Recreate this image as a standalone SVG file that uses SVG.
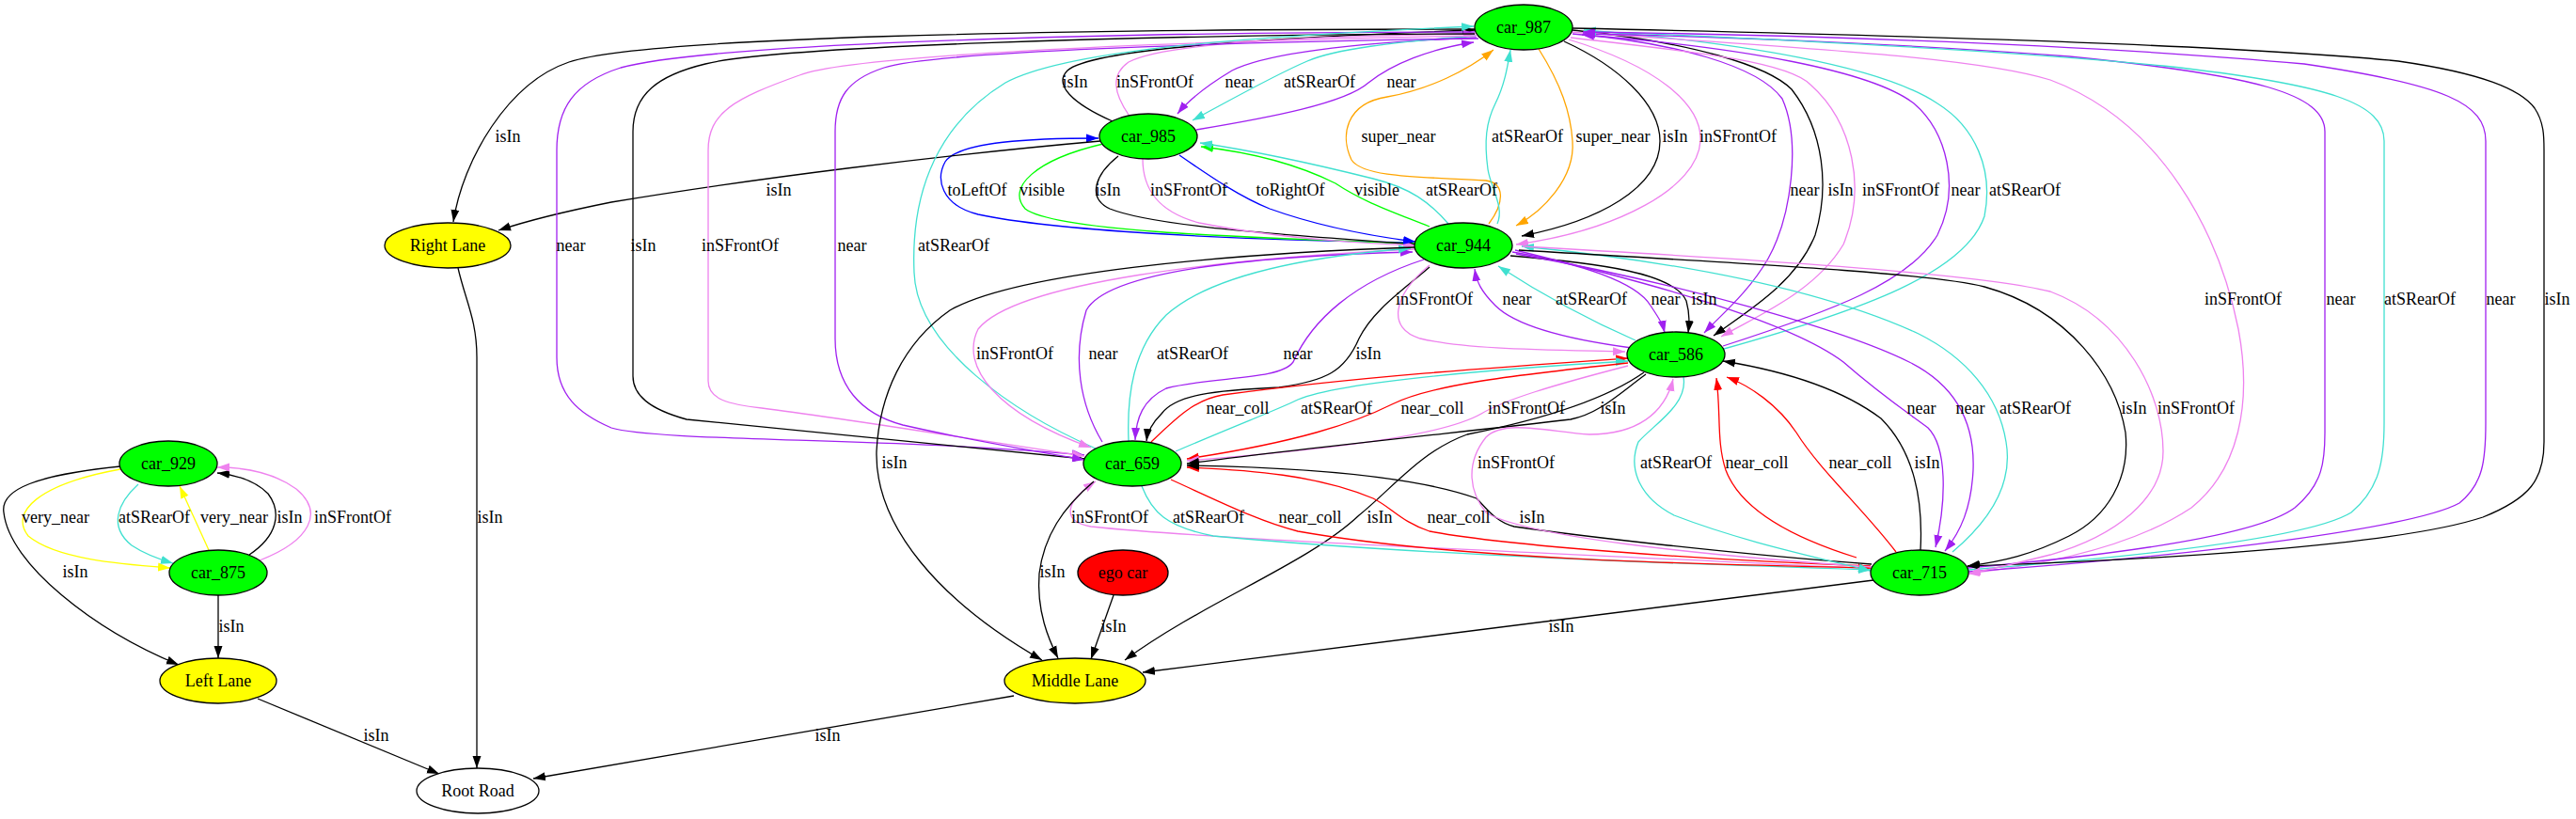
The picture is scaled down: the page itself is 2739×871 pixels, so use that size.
<svg xmlns="http://www.w3.org/2000/svg" width="2739" height="871" viewBox="0 0 2739 871">
<style>
.e{fill:none;stroke-width:1.3}
.k{stroke:#000;marker-end:url(#ak)}
.p{stroke:#a020f0;marker-end:url(#ap)}
.v{stroke:#ee82ee;marker-end:url(#av)}
.t{stroke:#40e0d0;marker-end:url(#at)}
.o{stroke:#ffa500;marker-end:url(#ao)}
.b{stroke:#0000ff;marker-end:url(#ab)}
.g{stroke:#00ff00;marker-end:url(#ag)}
.r{stroke:#ff0000;marker-end:url(#ar)}
.y{stroke:#ffff00;marker-end:url(#ay)}
.l{font-family:"Liberation Serif","Times New Roman",serif;font-size:18px;text-anchor:middle;fill:#000}
.n{stroke:#000;stroke-width:1.3}
.nt{font-family:"Liberation Serif","Times New Roman",serif;font-size:18px;text-anchor:middle;fill:#000}
</style>
<defs>
<marker id="ak" markerUnits="userSpaceOnUse" markerWidth="14" markerHeight="10" viewBox="0 0 14 10" refX="13" refY="5" orient="auto"><path d="M0,0.5 L13,5 L0,9.5 z" fill="#000"/></marker>
<marker id="ap" markerUnits="userSpaceOnUse" markerWidth="14" markerHeight="10" viewBox="0 0 14 10" refX="13" refY="5" orient="auto"><path d="M0,0.5 L13,5 L0,9.5 z" fill="#a020f0"/></marker>
<marker id="av" markerUnits="userSpaceOnUse" markerWidth="14" markerHeight="10" viewBox="0 0 14 10" refX="13" refY="5" orient="auto"><path d="M0,0.5 L13,5 L0,9.5 z" fill="#ee82ee"/></marker>
<marker id="at" markerUnits="userSpaceOnUse" markerWidth="14" markerHeight="10" viewBox="0 0 14 10" refX="13" refY="5" orient="auto"><path d="M0,0.5 L13,5 L0,9.5 z" fill="#40e0d0"/></marker>
<marker id="ao" markerUnits="userSpaceOnUse" markerWidth="14" markerHeight="10" viewBox="0 0 14 10" refX="13" refY="5" orient="auto"><path d="M0,0.5 L13,5 L0,9.5 z" fill="#ffa500"/></marker>
<marker id="ab" markerUnits="userSpaceOnUse" markerWidth="14" markerHeight="10" viewBox="0 0 14 10" refX="13" refY="5" orient="auto"><path d="M0,0.5 L13,5 L0,9.5 z" fill="#0000ff"/></marker>
<marker id="ag" markerUnits="userSpaceOnUse" markerWidth="14" markerHeight="10" viewBox="0 0 14 10" refX="13" refY="5" orient="auto"><path d="M0,0.5 L13,5 L0,9.5 z" fill="#00ff00"/></marker>
<marker id="ar" markerUnits="userSpaceOnUse" markerWidth="14" markerHeight="10" viewBox="0 0 14 10" refX="13" refY="5" orient="auto"><path d="M0,0.5 L13,5 L0,9.5 z" fill="#ff0000"/></marker>
<marker id="ay" markerUnits="userSpaceOnUse" markerWidth="14" markerHeight="10" viewBox="0 0 14 10" refX="13" refY="5" orient="auto"><path d="M0,0.5 L13,5 L0,9.5 z" fill="#ffff00"/></marker>
</defs>
<rect width="2739" height="871" fill="#fff"/>
<g id="connectors">
<!-- car_987 <-> car_985 -->
<path class="e k" d="M1183,129 C1140,110 1120,90 1135,75 C1160,52 1350,40 1568,32"/>
<path class="e v" d="M1200,122 C1185,100 1180,80 1200,66 C1240,45 1400,38 1569,36"/>
<path class="e p" d="M1570,40 C1450,45 1350,55 1310,75 C1285,90 1265,105 1252,121"/>
<path class="e t" d="M1569,38 C1480,45 1420,52 1390,65 C1355,80 1320,100 1268,128"/>
<path class="e p" d="M1272,138 C1350,125 1430,110 1455,88 C1480,68 1520,52 1567,45"/>
<!-- car_987 -> Right Lane -->
<path class="e k" d="M1568,31 C1100,31 680,40 605,66 C540,88 492,170 482,236"/>
<!-- car_987 <-> car_944 -->
<path class="e o" d="M1583,238 C1600,215 1600,195 1580,192 C1520,188 1450,190 1437,170 C1425,145 1430,110 1475,103 C1520,95 1560,75 1588,53"/>
<path class="e t" d="M1592,238 C1600,220 1585,200 1582,180 C1578,150 1580,130 1590,110 C1600,90 1603,70 1606,53"/>
<path class="e o" d="M1636,52 C1660,90 1670,120 1672,150 C1675,190 1640,225 1612,240"/>
<path class="e k" d="M1663,44 C1720,70 1765,110 1765,150 C1765,200 1700,235 1618,251"/>
<path class="e v" d="M1668,42 C1760,70 1810,110 1808,150 C1805,200 1720,245 1612,260"/>
<!-- car_985 <-> car_944 -->
<path class="e b" d="M1503,258 C1300,255 1120,245 1040,228 C1000,218 995,190 1005,172 C1020,150 1100,147 1168,147"/>
<path class="e g" d="M1173,153 C1100,170 1070,200 1090,222 C1120,245 1300,252 1505,259"/>
<path class="e k" d="M1189,166 C1165,185 1155,210 1180,222 C1230,242 1380,250 1505,260"/>
<path class="e v" d="M1215,169 C1215,200 1230,225 1275,237 C1350,252 1430,258 1505,261"/>
<path class="e b" d="M1254,165 C1290,190 1320,210 1350,222 C1400,240 1450,250 1505,257"/>
<path class="e g" d="M1520,241 C1480,225 1450,215 1420,195 C1380,175 1330,162 1277,156"/>
<path class="e t" d="M1540,238 C1520,215 1500,200 1460,190 C1400,175 1330,160 1276,152"/>
<!-- car_985 -> Right Lane -->
<path class="e k" d="M1170,150 C1000,165 800,190 650,215 C600,225 560,235 530,245"/>
<!-- Right Lane -> Root Road -->
<path class="e k" d="M487,285 C495,320 507,340 507,380 L507,817"/>
<!-- long left edges car_987 <-> car_659 -->
<path class="e p" d="M1568,34 C1200,34 760,45 660,72 C610,88 592,115 592,160 L592,380 C592,420 615,440 650,455 C700,470 950,465 1153,484"/>
<path class="e k" d="M1568,36 C1200,37 820,50 750,68 C700,80 673,100 673,140 L673,400 C673,420 690,435 730,446 L1153,488"/>
<path class="e v" d="M1570,38 C1200,45 900,60 850,80 C780,105 753,120 753,160 L753,405 C753,425 775,430 810,434 C900,445 1050,470 1153,485"/>
<path class="e p" d="M1572,41 C1300,45 990,55 940,72 C900,85 888,105 888,140 L888,360 C888,410 915,440 960,452 C1030,468 1100,480 1153,489"/>
<path class="e t" d="M1165,477 C1080,440 975,370 972,290 C968,200 1000,130 1069,88 C1130,55 1300,40 1567,28"/>
<!-- car_944 <-> car_659 -->
<path class="e v" d="M1504,265 C1300,275 1080,300 1040,350 C1020,390 1060,440 1160,476"/>
<path class="e p" d="M1172,470 C1148,430 1140,380 1155,330 C1180,285 1350,272 1502,268"/>
<path class="e t" d="M1200,469 C1198,420 1205,370 1240,335 C1290,290 1400,272 1500,264"/>
<path class="e p" d="M1514,276 C1440,300 1395,340 1375,385 C1360,405 1290,400 1240,413 C1215,425 1208,445 1207,468"/>
<path class="e k" d="M1520,284 C1490,310 1460,330 1445,360 C1430,395 1410,405 1360,412 C1290,415 1250,420 1235,440 C1225,450 1220,460 1219,469"/>
<!-- car_944 -> Middle Lane -->
<path class="e k" d="M1504,263 C1300,270 1080,290 1010,330 C960,365 935,420 932,480 C930,560 1000,640 1108,702"/>
<!-- car_944 <-> car_586 -->
<path class="e v" d="M1520,282 C1480,315 1475,350 1510,360 C1560,372 1650,372 1728,374"/>
<path class="e p" d="M1735,370 C1660,360 1610,345 1590,325 C1575,310 1570,300 1568,286"/>
<path class="e t" d="M1739,362 C1700,345 1650,320 1593,283"/>
<path class="e p" d="M1608,268 C1680,280 1740,300 1755,325 C1765,340 1768,345 1770,354"/>
<path class="e k" d="M1606,272 C1700,280 1780,290 1793,320 C1797,335 1796,345 1795,354"/>
<!-- car_987 <-> car_586 -->
<path class="e p" d="M1672,36 C1780,45 1870,70 1895,105 C1915,150 1905,230 1880,275 C1860,310 1830,335 1812,354"/>
<path class="e k" d="M1672,32 C1800,45 1880,70 1905,95 C1940,140 1945,200 1930,250 C1910,300 1860,330 1822,357"/>
<path class="e v" d="M1670,40 C1800,55 1900,65 1925,90 C1970,130 1985,200 1960,260 C1930,310 1870,335 1830,358"/>
<path class="e p" d="M1832,368 C1950,330 2030,300 2060,250 C2085,200 2070,140 2035,110 C1990,75 1850,50 1682,37"/>
<path class="e t" d="M1833,371 C1980,330 2090,290 2110,230 C2120,180 2100,135 2060,110 C2000,70 1850,45 1684,32"/>
<!-- car_987 <-> car_715 -->
<path class="e v" d="M1671,34 C1900,50 2100,60 2180,85 C2300,130 2360,250 2380,350 C2395,430 2380,500 2330,540 C2270,580 2180,600 2092,610"/>
<path class="e p" d="M2092,604 C2250,590 2400,570 2440,540 C2470,515 2472,490 2472,460 L2472,140 C2472,100 2400,80 2200,60 C2000,45 1800,38 1683,36"/>
<path class="e t" d="M2093,606 C2300,590 2460,570 2500,545 C2530,520 2535,490 2535,450 L2535,150 C2535,110 2480,90 2300,70 C2100,50 1800,38 1684,33"/>
<path class="e p" d="M2093,608 C2350,590 2570,560 2615,535 C2640,515 2643,490 2643,450 L2643,150 C2643,110 2600,90 2450,68 C2200,45 1850,36 1683,34"/>
<path class="e k" d="M1672,30 C1900,35 2350,45 2550,65 C2640,78 2680,95 2695,115 C2705,130 2705,145 2705,160 L2705,470 C2705,510 2690,530 2640,550 C2550,580 2300,595 2092,602"/>
<!-- car_944 <-> car_715 -->
<path class="e p" d="M1611,266 C1750,300 1900,340 1960,385 C2000,420 2030,440 2050,455 C2070,475 2070,530 2058,582"/>
<path class="e p" d="M1612,270 C1780,300 1960,350 2030,385 C2080,410 2100,450 2098,500 C2096,540 2085,565 2068,586"/>
<path class="e t" d="M2076,587 C2120,550 2140,510 2133,470 C2125,420 2090,380 2040,355 C1920,300 1750,275 1618,262"/>
<path class="e k" d="M1615,266 C1850,280 2050,290 2110,305 C2200,330 2250,400 2260,460 C2265,510 2240,550 2200,570 C2160,590 2130,597 2092,602"/>
<path class="e v" d="M1619,262 C1850,275 2100,290 2180,310 C2260,340 2300,420 2300,480 C2300,530 2250,570 2180,590 C2140,600 2120,605 2093,610"/>
<!-- car_586 <-> car_659 -->
<path class="e r" d="M1224,470 C1250,445 1270,425 1300,420 C1450,400 1600,390 1731,381"/>
<path class="e t" d="M1250,480 C1320,450 1360,435 1380,425 C1420,408 1550,395 1731,384"/>
<path class="e r" d="M1731,386 C1600,400 1520,410 1480,430 C1440,450 1380,470 1262,488"/>
<path class="e v" d="M1731,389 C1650,410 1600,425 1575,440 C1540,460 1450,475 1262,490"/>
<path class="e k" d="M1750,398 C1720,420 1700,440 1670,446 C1550,460 1400,475 1262,493"/>
<!-- car_586 -> Middle Lane -->
<path class="e k" d="M1748,396 C1700,430 1620,450 1560,462 C1510,480 1480,520 1445,548 C1390,600 1280,640 1196,702"/>
<!-- car_659 <-> car_715 -->
<path class="e v" d="M1990,605 C1700,590 1300,575 1160,560 C1130,555 1130,535 1165,512"/>
<path class="e t" d="M1214,517 C1225,545 1240,560 1290,570 C1500,590 1800,600 1989,606"/>
<path class="e r" d="M1245,510 C1300,535 1340,555 1380,565 C1550,595 1800,600 1989,604"/>
<path class="e r" d="M1989,602 C1800,595 1600,580 1520,565 C1490,555 1480,540 1460,530 C1400,505 1330,500 1262,497"/>
<path class="e k" d="M1990,600 C1850,590 1680,570 1610,560 C1590,555 1580,540 1570,530 C1500,505 1380,497 1262,495"/>
<!-- car_586 <-> car_715 -->
<path class="e v" d="M1990,603 C1800,590 1620,570 1580,545 C1560,520 1560,490 1580,465 C1600,445 1650,460 1690,462 C1740,462 1770,440 1779,403"/>
<path class="e t" d="M1790,401 C1795,430 1760,450 1742,470 C1730,500 1745,530 1780,548 C1850,575 1920,590 1989,607"/>
<path class="e r" d="M1974,593 C1900,570 1850,540 1835,500 C1825,470 1830,440 1825,402"/>
<path class="e r" d="M2016,587 C1980,540 1935,500 1910,460 C1890,430 1860,410 1836,401"/>
<path class="e k" d="M2042,585 C2045,530 2035,480 2000,445 C1960,415 1900,395 1832,384"/>
<!-- lanes -->
<path class="e k" d="M1163,512 C1130,540 1110,570 1105,610 C1102,650 1115,680 1125,700"/>
<path class="e k" d="M1184,633 L1160,701"/>
<path class="e k" d="M1992,617 L1215,715"/>
<path class="e k" d="M1078,740 L567,828"/>
<path class="e k" d="M274,743 L467,823"/>
<!-- car_929 / car_875 -->
<path class="e y" d="M128,499 C40,515 10,545 30,570 C60,595 130,600 181,604"/>
<path class="e t" d="M147,515 C125,535 115,560 140,580 C155,590 170,595 184,599"/>
<path class="e y" d="M222,585 L191,517"/>
<path class="e k" d="M265,590 C295,570 300,545 285,525 C270,510 250,505 231,503"/>
<path class="e v" d="M276,596 C330,575 345,545 315,520 C290,502 260,497 231,497"/>
<path class="e k" d="M128,496 C40,505 0,520 4,545 C10,600 100,670 190,707"/>
<path class="e k" d="M232,633 L232,700"/>
<!-- labels -->
<g>
<text class="l" x="1143" y="93">isIn</text>
<text class="l" x="1228" y="93">inSFrontOf</text>
<text class="l" x="1318" y="93">near</text>
<text class="l" x="1403" y="93">atSRearOf</text>
<text class="l" x="1490" y="93">near</text>
<text class="l" x="540" y="151">isIn</text>
<text class="l" x="1487" y="151">super_near</text>
<text class="l" x="1624" y="151">atSRearOf</text>
<text class="l" x="1715" y="151">super_near</text>
<text class="l" x="1781" y="151">isIn</text>
<text class="l" x="1848" y="151">inSFrontOf</text>
<text class="l" x="828" y="208">isIn</text>
<text class="l" x="1039" y="208">toLeftOf</text>
<text class="l" x="1108" y="208">visible</text>
<text class="l" x="1178" y="208">isIn</text>
<text class="l" x="1264" y="208">inSFrontOf</text>
<text class="l" x="1372" y="208">toRightOf</text>
<text class="l" x="1464" y="208">visible</text>
<text class="l" x="1554" y="208">atSRearOf</text>
<text class="l" x="1919" y="208">near</text>
<text class="l" x="1957" y="208">isIn</text>
<text class="l" x="2021" y="208">inSFrontOf</text>
<text class="l" x="2090" y="208">near</text>
<text class="l" x="2153" y="208">atSRearOf</text>
<text class="l" x="607" y="267">near</text>
<text class="l" x="684" y="267">isIn</text>
<text class="l" x="787" y="267">inSFrontOf</text>
<text class="l" x="906" y="267">near</text>
<text class="l" x="1014" y="267">atSRearOf</text>
<text class="l" x="1525" y="324">inSFrontOf</text>
<text class="l" x="1613" y="324">near</text>
<text class="l" x="1692" y="324">atSRearOf</text>
<text class="l" x="1771" y="324">near</text>
<text class="l" x="1812" y="324">isIn</text>
<text class="l" x="2385" y="324">inSFrontOf</text>
<text class="l" x="2489" y="324">near</text>
<text class="l" x="2573" y="324">atSRearOf</text>
<text class="l" x="2659" y="324">near</text>
<text class="l" x="2719" y="324">isIn</text>
<text class="l" x="1079" y="382">inSFrontOf</text>
<text class="l" x="1173" y="382">near</text>
<text class="l" x="1268" y="382">atSRearOf</text>
<text class="l" x="1380" y="382">near</text>
<text class="l" x="1455" y="382">isIn</text>
<text class="l" x="1316" y="440">near_coll</text>
<text class="l" x="1421" y="440">atSRearOf</text>
<text class="l" x="1523" y="440">near_coll</text>
<text class="l" x="1623" y="440">inSFrontOf</text>
<text class="l" x="1715" y="440">isIn</text>
<text class="l" x="2043" y="440">near</text>
<text class="l" x="2095" y="440">near</text>
<text class="l" x="2164" y="440">atSRearOf</text>
<text class="l" x="2269" y="440">isIn</text>
<text class="l" x="2335" y="440">inSFrontOf</text>
<text class="l" x="951" y="498">isIn</text>
<text class="l" x="1612" y="498">inSFrontOf</text>
<text class="l" x="1782" y="498">atSRearOf</text>
<text class="l" x="1868" y="498">near_coll</text>
<text class="l" x="1978" y="498">near_coll</text>
<text class="l" x="2049" y="498">isIn</text>
<text class="l" x="59" y="556">very_near</text>
<text class="l" x="164" y="556">atSRearOf</text>
<text class="l" x="249" y="556">very_near</text>
<text class="l" x="308" y="556">isIn</text>
<text class="l" x="375" y="556">inSFrontOf</text>
<text class="l" x="521" y="556">isIn</text>
<text class="l" x="1180" y="556">inSFrontOf</text>
<text class="l" x="1285" y="556">atSRearOf</text>
<text class="l" x="1393" y="556">near_coll</text>
<text class="l" x="1467" y="556">isIn</text>
<text class="l" x="1551" y="556">near_coll</text>
<text class="l" x="1629" y="556">isIn</text>
<text class="l" x="80" y="614">isIn</text>
<text class="l" x="1119" y="614">isIn</text>
<text class="l" x="246" y="672">isIn</text>
<text class="l" x="1184" y="672">isIn</text>
<text class="l" x="1660" y="672">isIn</text>
<text class="l" x="400" y="788">isIn</text>
<text class="l" x="880" y="788">isIn</text>
</g>
</g>
<g id="car_987"><ellipse class="n" cx="1620" cy="29" rx="52" ry="24" fill="#00ff00"/><text class="nt" x="1620" y="35">car_987</text></g>
<g id="car_985"><ellipse class="n" cx="1221" cy="145" rx="52" ry="24" fill="#00ff00"/><text class="nt" x="1221" y="151">car_985</text></g>
<g id="car_944"><ellipse class="n" cx="1556" cy="261" rx="52" ry="24" fill="#00ff00"/><text class="nt" x="1556" y="267">car_944</text></g>
<g id="car_586"><ellipse class="n" cx="1782" cy="377" rx="52" ry="24" fill="#00ff00"/><text class="nt" x="1782" y="383">car_586</text></g>
<g id="car_659"><ellipse class="n" cx="1204" cy="493" rx="52" ry="24" fill="#00ff00"/><text class="nt" x="1204" y="499">car_659</text></g>
<g id="car_715"><ellipse class="n" cx="2041" cy="609" rx="52" ry="24" fill="#00ff00"/><text class="nt" x="2041" y="615">car_715</text></g>
<g id="car_929"><ellipse class="n" cx="179" cy="493" rx="52" ry="24" fill="#00ff00"/><text class="nt" x="179" y="499">car_929</text></g>
<g id="car_875"><ellipse class="n" cx="232" cy="609" rx="52" ry="24" fill="#00ff00"/><text class="nt" x="232" y="615">car_875</text></g>
<g id="ego_car"><ellipse class="n" cx="1194" cy="609" rx="48" ry="24" fill="#ff0000"/><text class="nt" x="1194" y="615">ego car</text></g>
<g id="right_lane"><ellipse class="n" cx="476" cy="261" rx="67" ry="24" fill="#ffff00"/><text class="nt" x="476" y="267">Right Lane</text></g>
<g id="middle_lane"><ellipse class="n" cx="1143" cy="724" rx="75" ry="24" fill="#ffff00"/><text class="nt" x="1143" y="730">Middle Lane</text></g>
<g id="left_lane"><ellipse class="n" cx="232" cy="724" rx="62" ry="24" fill="#ffff00"/><text class="nt" x="232" y="730">Left Lane</text></g>
<g id="root_road"><ellipse class="n" cx="508" cy="841" rx="65" ry="24" fill="#ffffff"/><text class="nt" x="508" y="847">Root Road</text></g>
</svg>
